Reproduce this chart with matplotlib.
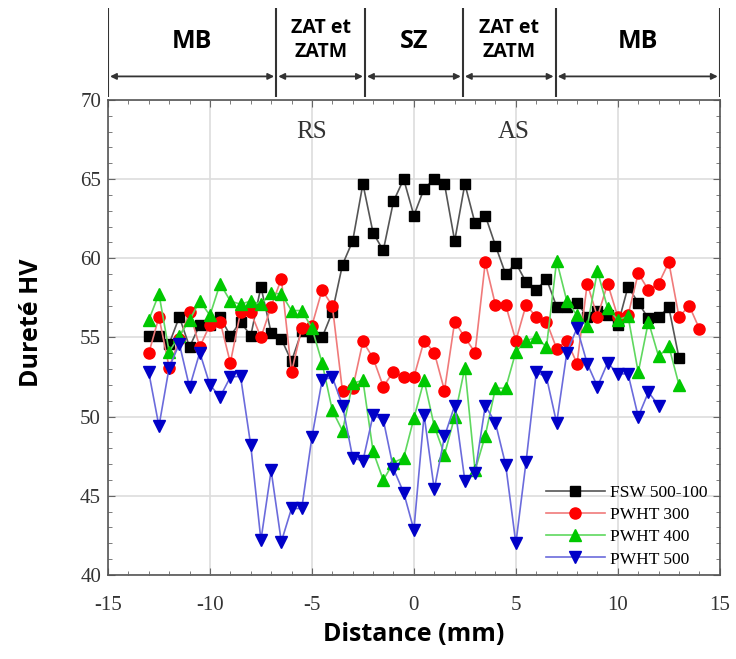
import numpy as np
import matplotlib
matplotlib.use("Agg")
from matplotlib import pyplot as plt
from matplotlib.ticker import MultipleLocator

plt.rcParams["axes.unicode_minus"] = False

# Profils de dureté (pas de 0.5 mm)
x_fsw = np.arange(-13, 13.01, 0.5)
hv_fsw = [55.1, 55.1, 54.6, 56.3, 54.4, 55.8, 55.8, 56.3, 55.1, 56.0, 55.1, 58.2,
          55.3, 54.9, 53.5, 55.4, 55.0, 55.0, 56.6, 59.6, 61.1, 64.7, 61.6, 60.5,
          63.6, 65.0, 62.7, 64.4, 65.0, 64.7, 61.1, 64.7, 62.2, 62.7, 60.8, 59.0,
          59.7, 58.5, 58.0, 58.7, 56.95, 56.95, 57.2, 56.3, 56.7, 56.4, 55.8, 58.2,
          57.2, 56.2, 56.3, 56.9, 53.7]

x_300 = np.arange(-13, 14.01, 0.5)
hv_300 = [54.0, 56.3, 53.1, 54.9, 56.6, 54.4, 55.8, 56.0, 53.4, 56.6, 56.6, 55.0,
          56.95, 58.7, 52.8, 55.6, 55.75, 58.0, 57.0, 51.6, 51.8, 54.75, 53.7, 51.9,
          52.85, 52.5, 52.5, 54.8, 54.05, 51.65, 56.0, 55.0, 54.05, 59.75, 57.05,
          57.05, 54.8, 57.05, 56.3, 56.0, 54.3, 54.8, 53.35, 58.4, 56.3, 58.4, 56.3,
          56.4, 59.05, 58.0, 58.4, 59.75, 56.3, 57.0, 55.55]

x_400 = np.arange(-13, 13.01, 0.5)
hv_400 = [56.1, 57.75, 54.1, 55.1, 56.1, 57.3, 56.4, 58.4, 57.3, 57.1, 57.3, 57.1,
          57.8, 57.75, 56.7, 56.7, 55.6, 53.4, 50.4, 49.1, 52.1, 52.3, 47.8, 46.0,
          47.1, 47.4, 49.9, 52.3, 49.4, 47.6, 50.0, 53.1, 46.6, 48.8, 51.8, 51.8,
          54.1, 54.8, 55.0, 54.4, 59.85, 57.3, 56.4, 55.7, 59.2, 56.85, 56.1, 56.35,
          52.8, 56.0, 53.8, 54.45, 52.0]

x_500 = np.arange(-13, 12.01, 0.5)
hv_500 = [52.8, 49.4, 53.1, 54.6, 51.85, 54.05, 52.0, 51.25, 52.5, 52.55, 48.2, 42.2,
          46.6, 42.1, 44.2, 44.2, 48.7, 52.3, 52.5, 50.7, 47.4, 47.2, 50.1, 49.8,
          46.7, 45.2, 42.85, 50.1, 45.4, 48.75, 50.7, 45.95, 46.45, 50.7, 49.6,
          46.95, 42.0, 47.15, 52.8, 52.5, 49.6, 54.05, 55.6, 53.35, 51.9, 53.4,
          52.7, 52.7, 50.0, 51.55, 50.7]

# Zones de la soudure
zone_bounds = [-15, -6.75, -2.4, 2.4, 6.95, 15]
zone_names = ["MB", "ZAT et\nZATM", "SZ", "ZAT et\nZATM", "MB"]

serif = "Liberation Serif"
sans = "Open Sans"

fig = plt.figure(figsize=(7.36, 6.59), dpi=100)
ax = fig.add_axes([0.1467, 0.1275, 0.8313, 0.7208])

ax.plot(x_fsw, hv_fsw, color="#555555", lw=1.2, marker="s", ms=6.5,
        mfc="black", mec="black", label="FSW 500-100")
ax.plot(x_300, hv_300, color="#f07a7a", lw=1.2, marker="o", ms=8,
        mfc="#ff0000", mec="#ff0000", label="PWHT 300")
ax.plot(x_400, hv_400, color="#5fd85f", lw=1.2, marker="^", ms=8.5,
        mfc="#00c800", mec="#00c800", label="PWHT 400")
ax.plot(x_500, hv_500, color="#6b6bdc", lw=1.2, marker="v", ms=8.5,
        mfc="#0000c8", mec="#0000c8", label="PWHT 500")

ax.set_xlim(-15, 15)
ax.set_ylim(40, 70)
ax.xaxis.set_major_locator(MultipleLocator(5))
ax.xaxis.set_minor_locator(MultipleLocator(1))
ax.yaxis.set_major_locator(MultipleLocator(5))
ax.yaxis.set_minor_locator(MultipleLocator(1))
ax.tick_params(which="both", direction="in", top=True, right=True,
               color="#666666")
ax.tick_params(which="major", length=5, labelsize=15)
ax.tick_params(which="minor", length=3)
ax.tick_params(axis="x", which="major", pad=15)
ax.tick_params(axis="y", which="major", pad=5)
for lab in ax.get_xticklabels() + ax.get_yticklabels():
    lab.set_family(serif)
    lab.set_color("#333333")
for sp in ax.spines.values():
    sp.set_color("#555555")
    sp.set_linewidth(1.2)
ax.grid(True, which="major", color="#dddddd", lw=1.2)
ax.set_axisbelow(True)

ax.set_xlabel("Distance (mm)", family=sans, fontweight="bold", fontsize=18,
              labelpad=5)
ax.set_ylabel("Dureté HV", family=sans, fontweight="bold", fontsize=18)
ax.yaxis.set_label_coords(-0.104, 0.53)

ax.text(-5.0, 68.0, "RS", family=serif, fontsize=18, color="#333333",
        ha="center", va="center")
ax.text(4.9, 68.0, "AS", family=serif, fontsize=18, color="#333333",
        ha="center", va="center")

ax.legend(loc="lower right", bbox_to_anchor=(1.0, -0.01), frameon=False,
          prop={"family": serif, "size": 12.5}, handlelength=3.4,
          labelspacing=0.35, handletextpad=0.3, borderaxespad=0.3)

# Bandeau des zones au-dessus du graphique
top = fig.add_axes([0.1467, 0.853, 0.8313, 0.135])
top.set_xlim(-15, 15)
top.set_ylim(0, 1)
top.axis("off")
for b in zone_bounds:
    top.axvline(b, color="#333333", lw=1.5)
for a, b, name in zip(zone_bounds[:-1], zone_bounds[1:], zone_names):
    top.annotate("", xy=(a + 0.1, 0.23), xytext=(b - 0.1, 0.23),
                 arrowprops=dict(arrowstyle="<|-|>", color="#333333", lw=1.3,
                                 mutation_scale=9, shrinkA=0, shrinkB=0))
    two_lines = "\n" in name
    top.text((a + b) / 2, 0.64 if two_lines else 0.62, name, family=sans,
             fontweight="bold", fontsize=14 if two_lines else 18,
             ha="center", va="center", linespacing=1.3, color="black")

fig.savefig("out.png", dpi=100)
